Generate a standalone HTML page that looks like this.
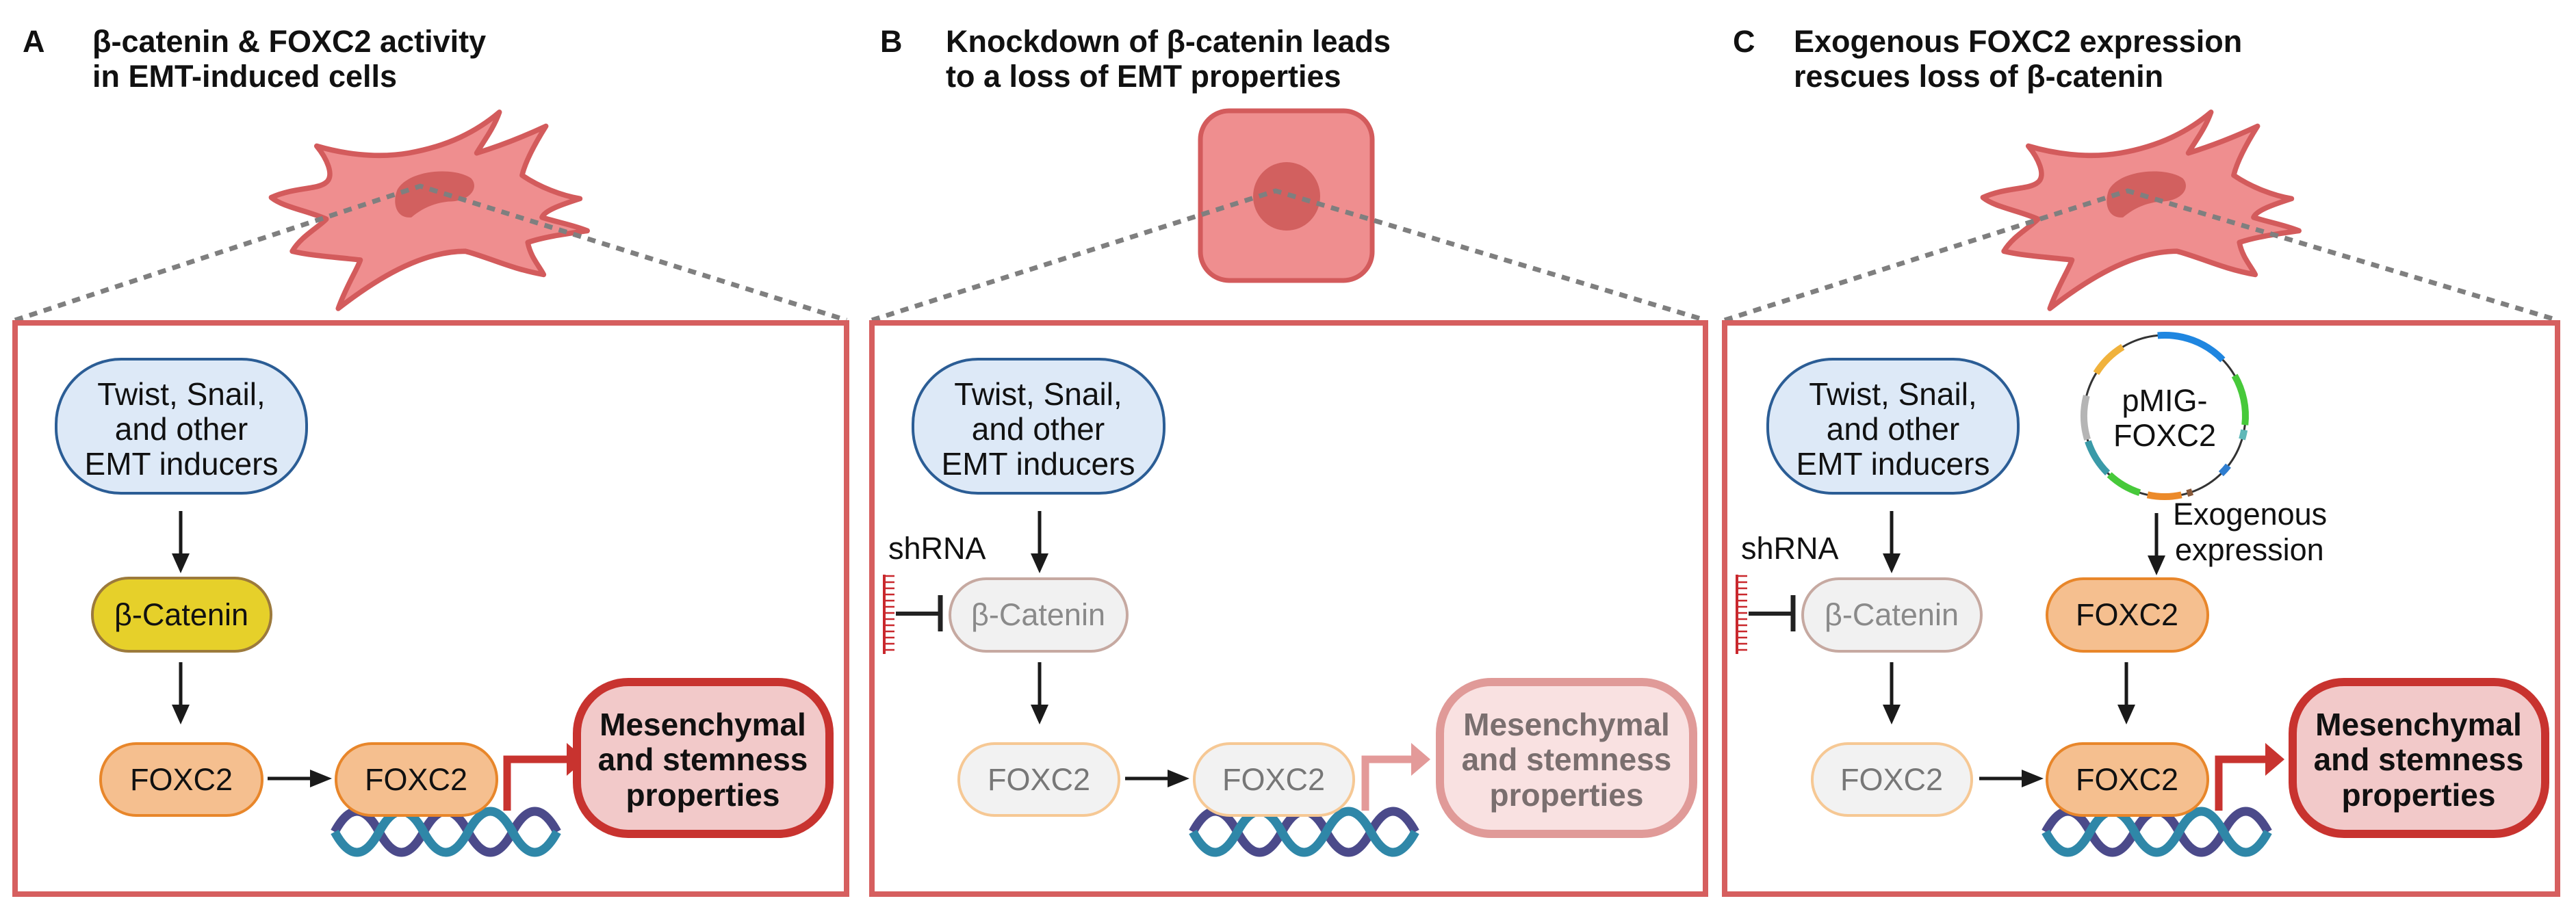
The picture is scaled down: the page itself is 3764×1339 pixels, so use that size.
<!DOCTYPE html>
<html><head><meta charset="utf-8"><style>
html,body{margin:0;padding:0;background:#fff;}
svg{display:block;}
text{font-family:"Liberation Sans",Arial,sans-serif;}
</style></head><body>
<svg width="3764" height="1339" viewBox="0 0 3764 1339" xmlns="http://www.w3.org/2000/svg">
<defs>
<g id="cell">
<path d="M478,338 C520,320 560,325 575,312 C590,300 575,270 558,250 C600,262 660,272 720,262 C790,250 840,225 880,192 C870,220 850,245 840,262 C880,250 920,235 962,216 C940,250 925,280 920,300 C950,320 990,335 1022,340 C990,350 960,360 955,372 C980,380 1010,385 1035,395 C1000,400 960,405 930,415 C935,440 950,455 958,470 C900,460 860,440 820,430 C740,430 660,480 596,528 C610,490 630,460 635,445 C590,440 550,438 515,430 C530,405 560,390 575,375 C540,360 500,355 478,338 Z" fill="#ef8e8f" stroke="#d35b5c" stroke-width="9" stroke-linejoin="round"/>
<path d="M700,325 C720,290 800,285 830,305 C845,320 830,345 790,345 C760,348 740,360 725,372 C700,375 690,350 700,325 Z" fill="#d2605f"/>
</g>
<g id="dna">
<path d="M0,38 q32.5,-60 65,0 t65,0 t65,0 t65,0 t65,0" fill="none" stroke="#4b4a8a" stroke-width="13"/>
<path d="M0,38 q32.5,60 65,0 t65,0 t65,0 t65,0 t65,0" fill="none" stroke="#2f87a8" stroke-width="13"/>
</g>
<g id="arrowD"><line x1="0" y1="0" x2="0" y2="66" stroke="#1a1a1a" stroke-width="5"/><polygon points="-13,62 13,62 0,91" fill="#1a1a1a"/></g>
<g id="arrowR"><line x1="0" y1="0" x2="66" y2="0" stroke="#1a1a1a" stroke-width="5"/><polygon points="62,-13 62,13 94,0" fill="#1a1a1a"/></g>
<g id="comb">
<line x1="0" y1="0" x2="0" y2="116" stroke="#c9282d" stroke-width="4"/>
<path d="M0,2h15M0,11h15M0,20h15M0,29h15M0,38h15M0,47h15M0,56h15M0,65h15M0,74h15M0,83h15M0,92h15M0,101h15M0,110h15" stroke="#c9282d" stroke-width="2.5"/>
</g>
</defs>

<g font-weight="bold" font-size="45" fill="#111">
<text x="33" y="76">A</text>
<text x="135" y="76">β-catenin &amp; FOXC2 activity</text>
<text x="135" y="127">in EMT-induced cells</text>
<text x="1286" y="76">B</text>
<text x="1382" y="76">Knockdown of β-catenin leads</text>
<text x="1382" y="127">to a loss of EMT properties</text>
<text x="2532" y="76">C</text>
<text x="2621" y="76">Exogenous FOXC2 expression</text>
<text x="2621" y="127">rescues loss of β-catenin</text>
</g>

<g transform="scale(0.8292,0.854)"><use href="#cell"/></g>
<g transform="translate(2501,0) scale(0.8292,0.854)"><use href="#cell"/></g>
<rect x="1754" y="162" width="251" height="248" rx="42" fill="#ef8e8f" stroke="#d35b5c" stroke-width="7"/>
<ellipse cx="1880" cy="287" rx="49" ry="50" fill="#d2605f"/>

<g fill="none" stroke="#7f7f7f" stroke-width="7" stroke-dasharray="12,10">
<polyline points="22,468 614,272 1237,468"/>
<polyline points="1274,468 1864,279 2492,468"/>
<polyline points="2520,468 3109,279 3737,468"/>
</g>

<g fill="none" stroke="#d65f5f" stroke-width="8">
<rect x="22" y="472" width="1215" height="835"/>
<rect x="1274" y="472" width="1218" height="835"/>
<rect x="2520" y="472" width="1217" height="835"/>
</g>

<!-- Panel A -->
<rect x="82" y="525" width="366" height="196" rx="95" fill="#dde9f7" stroke="#2b5d95" stroke-width="4"/>
<g font-size="46" fill="#111" text-anchor="middle">
<text x="265" y="592">Twist, Snail,</text><text x="265" y="643">and other</text><text x="265" y="694">EMT inducers</text>
</g>
<use href="#arrowD" x="264" y="747"/>
<rect x="135" y="845" width="261" height="107" rx="53" fill="#e6d02a" stroke="#9c7a3c" stroke-width="4"/>
<text x="265" y="914" font-size="45" text-anchor="middle" fill="#111">β-Catenin</text>
<use href="#arrowD" x="264" y="968"/>
<rect x="147" y="1087" width="236" height="105" rx="52" fill="#f5bf8f" stroke="#e8862a" stroke-width="4"/>
<text x="265" y="1155" font-size="45" text-anchor="middle" fill="#111">FOXC2</text>
<use href="#arrowR" x="391" y="1138"/>
<use href="#dna" x="489" y="1178"/>
<rect x="491" y="1087" width="235" height="105" rx="52" fill="#f5bf8f" stroke="#e8862a" stroke-width="4"/>
<text x="608" y="1155" font-size="45" text-anchor="middle" fill="#111">FOXC2</text>
<polyline points="741,1185 741,1110 830,1110" fill="none" stroke="#c8332f" stroke-width="11"/>
<polygon points="828,1086 828,1134 856,1110" fill="#c8332f"/>
<rect x="843" y="997" width="369" height="222" rx="75" fill="#f2c9c9" stroke="#c8332f" stroke-width="12"/>
<g font-size="46" font-weight="bold" fill="#111" text-anchor="middle">
<text x="1027" y="1075">Mesenchymal</text><text x="1027" y="1126">and stemness</text><text x="1027" y="1178">properties</text>
</g>

<!-- Panel B -->
<rect x="1334" y="525" width="367" height="196" rx="95" fill="#dde9f7" stroke="#2b5d95" stroke-width="4"/>
<g font-size="46" fill="#111" text-anchor="middle">
<text x="1517" y="592">Twist, Snail,</text><text x="1517" y="643">and other</text><text x="1517" y="694">EMT inducers</text>
</g>
<use href="#arrowD" x="1519" y="747"/>
<text x="1298" y="817" font-size="45" fill="#111">shRNA</text>
<use href="#comb" x="1292" y="840"/>
<line x1="1309" y1="897" x2="1374" y2="897" stroke="#222" stroke-width="6"/>
<line x1="1374" y1="870" x2="1374" y2="923" stroke="#222" stroke-width="7"/>
<rect x="1388" y="846" width="259" height="106" rx="53" fill="#f1f1f1" stroke="#c6a9a1" stroke-width="4"/>
<text x="1517" y="914" font-size="45" text-anchor="middle" fill="#8a8a8a">β-Catenin</text>
<use href="#arrowD" x="1519" y="968"/>
<rect x="1401" y="1087" width="234" height="105" rx="52" fill="#f2f2f2" stroke="#f6c894" stroke-width="4"/>
<text x="1518" y="1155" font-size="45" text-anchor="middle" fill="#777">FOXC2</text>
<use href="#arrowR" x="1644" y="1138"/>
<use href="#dna" x="1743" y="1178"/>
<rect x="1745" y="1087" width="233" height="105" rx="52" fill="#f2f2f2" stroke="#f6c894" stroke-width="4"/>
<text x="1861" y="1155" font-size="45" text-anchor="middle" fill="#777">FOXC2</text>
<polyline points="1995,1185 1995,1110 2064,1110" fill="none" stroke="#e39a99" stroke-width="11"/>
<polygon points="2062,1086 2062,1134 2090,1110" fill="#e39a99"/>
<rect x="2104" y="997" width="370" height="222" rx="75" fill="#f9e1e1" stroke="#e09a98" stroke-width="12"/>
<g font-size="46" font-weight="bold" fill="#7a6f6f" text-anchor="middle">
<text x="2289" y="1075">Mesenchymal</text><text x="2289" y="1126">and stemness</text><text x="2289" y="1178">properties</text>
</g>

<!-- Panel C -->
<rect x="2583" y="525" width="366" height="196" rx="95" fill="#dde9f7" stroke="#2b5d95" stroke-width="4"/>
<g font-size="46" fill="#111" text-anchor="middle">
<text x="2766" y="592">Twist, Snail,</text><text x="2766" y="643">and other</text><text x="2766" y="694">EMT inducers</text>
</g>
<use href="#arrowD" x="2764" y="747"/>
<text x="2544" y="817" font-size="45" fill="#111">shRNA</text>
<use href="#comb" x="2538" y="840"/>
<line x1="2555" y1="897" x2="2620" y2="897" stroke="#222" stroke-width="6"/>
<line x1="2620" y1="870" x2="2620" y2="923" stroke="#222" stroke-width="7"/>
<rect x="2634" y="846" width="261" height="106" rx="53" fill="#f1f1f1" stroke="#c6a9a1" stroke-width="4"/>
<text x="2764" y="914" font-size="45" text-anchor="middle" fill="#8a8a8a">β-Catenin</text>
<use href="#arrowD" x="2764" y="968"/>
<rect x="2648" y="1087" width="233" height="105" rx="52" fill="#f2f2f2" stroke="#f6c894" stroke-width="4"/>
<text x="2764" y="1155" font-size="45" text-anchor="middle" fill="#777">FOXC2</text>
<use href="#arrowR" x="2892" y="1138"/>
<use href="#dna" x="2989" y="1178"/>
<rect x="2991" y="1087" width="235" height="105" rx="52" fill="#f5bf8f" stroke="#e8862a" stroke-width="4"/>
<text x="3108" y="1155" font-size="45" text-anchor="middle" fill="#111">FOXC2</text>
<polyline points="3242,1185 3242,1110 3312,1110" fill="none" stroke="#c8332f" stroke-width="11"/>
<polygon points="3310,1086 3310,1134 3338,1110" fill="#c8332f"/>
<rect x="3350" y="997" width="369" height="222" rx="75" fill="#f2c9c9" stroke="#c8332f" stroke-width="12"/>
<g font-size="46" font-weight="bold" fill="#111" text-anchor="middle">
<text x="3534" y="1075">Mesenchymal</text><text x="3534" y="1126">and stemness</text><text x="3534" y="1178">properties</text>
</g>
<rect x="2991" y="846" width="235" height="106" rx="53" fill="#f5bf8f" stroke="#e8862a" stroke-width="4"/>
<text x="3108" y="914" font-size="45" text-anchor="middle" fill="#111">FOXC2</text>
<use href="#arrowD" x="3107" y="968"/>
<use href="#arrowD" x="3151" y="750"/>
<g font-size="45" fill="#111">
<text x="3175" y="767">Exogenous</text><text x="3178" y="819">expression</text>
</g>
<g transform="translate(3163,608)">
<circle r="118" fill="none" stroke="#333" stroke-width="3"/>
<g fill="none" stroke-width="10">
<circle r="118" stroke="#1f86e0" stroke-dasharray="105 1000" transform="rotate(-95)"/>
<circle r="118" stroke="#f0b23c" stroke-dasharray="55 1000" transform="rotate(-148)"/>
<circle r="118" stroke="#b5b5b5" stroke-dasharray="65 1000" transform="rotate(-197)"/>
<circle r="118" stroke="#47c93a" stroke-dasharray="75 1000" transform="rotate(-30)"/>
<circle r="118" stroke="#5fb8b8" stroke-dasharray="14 1000" transform="rotate(10)"/>
<circle r="118" stroke="#2f7ed0" stroke-dasharray="16 1000" transform="rotate(38)"/>
<circle r="118" stroke="#8a5a3a" stroke-dasharray="8 1000" transform="rotate(70)"/>
<circle r="118" stroke="#ec8a2a" stroke-dasharray="50 1000" transform="rotate(78)"/>
<circle r="118" stroke="#47c93a" stroke-dasharray="52 1000" transform="rotate(108)"/>
<circle r="118" stroke="#3a9aa8" stroke-dasharray="55 1000" transform="rotate(135)"/>
</g>
<text x="0" y="-7" font-size="45" text-anchor="middle" fill="#111">pMIG-</text>
<text x="0" y="44" font-size="45" text-anchor="middle" fill="#111">FOXC2</text>
</g>
</svg>
</body></html>
